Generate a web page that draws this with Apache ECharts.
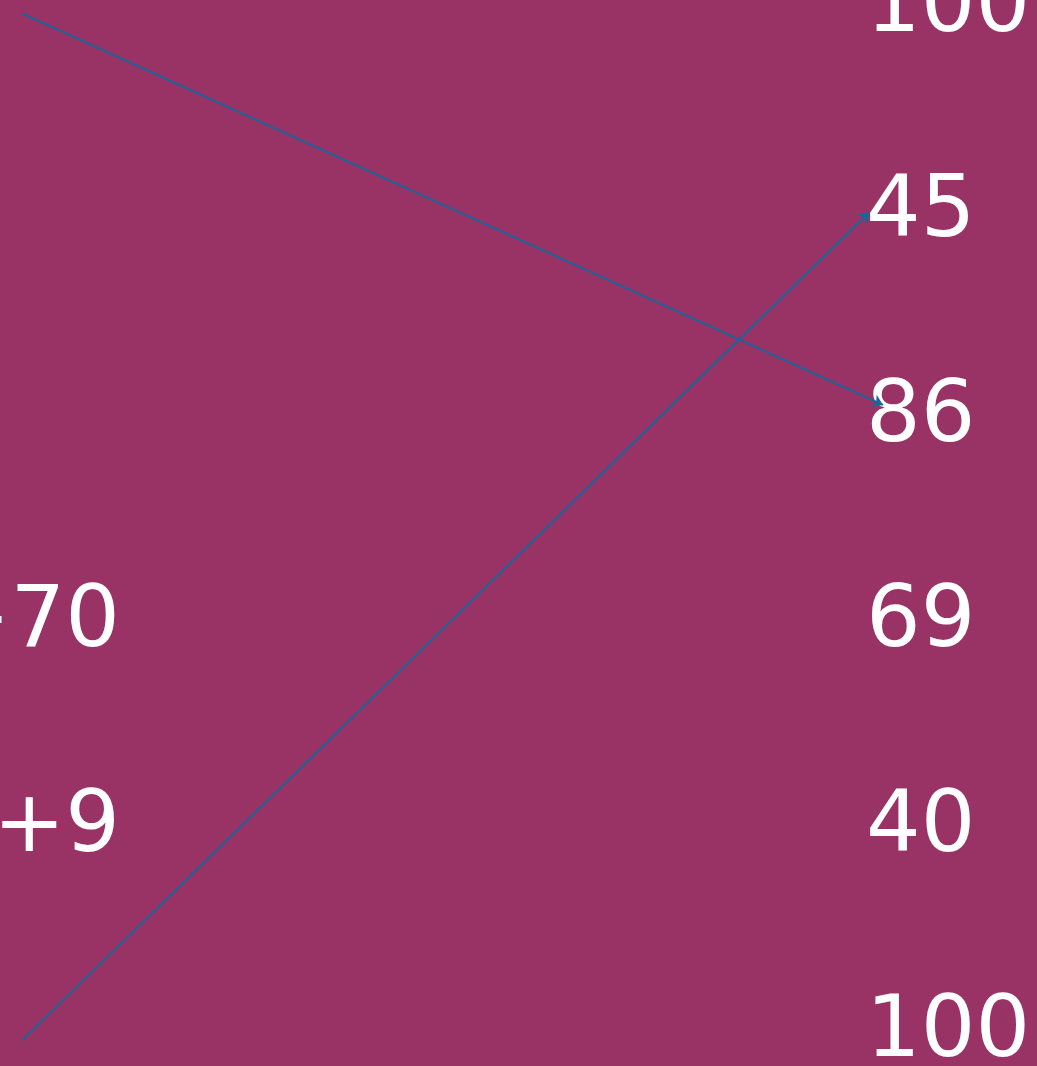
<!DOCTYPE html>
<html>
<head>
<meta charset="UTF-8">
<title>chart</title>
<script src="https://cdn.jsdelivr.net/npm/echarts@6/dist/echarts.min.js"></script>
<style>
  html, body { margin: 0; padding: 0; background: #993366; }
  #chart { width: 1037px; height: 1066px; }
</style>
</head>
<body>
<div id="chart"></div>
<script>
// row labels (top to bottom)
const rightLabels = ['100', '45', '86', '69', '40', '100'];
const leftLabels = ['', '', '', '+70', '+9', ''];

// arrows: [x, row] start -> end
const arrowStarts = [[0, 0.06], [0, 5.07]];
const arrowEnds = [[100, 1.97], [98.4, 1.03]];

const font = '"DejaVu Sans", Verdana, sans-serif';
const chart = echarts.init(document.getElementById('chart'));

chart.setOption({
  backgroundColor: '#993366',
  animation: false,
  grid: [
    { left: 22, right: 154, top: 0, bottom: 0, outerBoundsMode: 'none', containLabel: false },
    { left: 120, right: 171, top: 9, height: 1025, outerBoundsMode: 'none', containLabel: false }
  ],
  xAxis: [
    { gridIndex: 0, type: 'value', min: 0, max: 100, show: false },
    { gridIndex: 1, type: 'value', min: 0, max: 1, show: false }
  ],
  yAxis: [
    { gridIndex: 0, type: 'value', inverse: true, min: -0.005, max: 5.195, show: false },
    {
      gridIndex: 1, type: 'category', inverse: true, boundaryGap: false,
      position: 'right', data: rightLabels,
      axisLine: { show: false }, axisTick: { show: false }, splitLine: { show: false },
      axisLabel: { margin: 0, interval: 0, color: '#fff', fontSize: 86, fontFamily: font }
    },
    {
      gridIndex: 1, type: 'category', inverse: true, boundaryGap: false,
      position: 'left', data: leftLabels,
      axisLine: { show: false }, axisTick: { show: false }, splitLine: { show: false },
      axisLabel: { margin: 0, interval: 0, color: '#fff', fontSize: 86, fontFamily: font }
    }
  ],
  series: [{
    type: 'lines',
    coordinateSystem: 'cartesian2d',
    xAxisIndex: 0,
    yAxisIndex: 0,
    clip: false,
    symbol: ['none', 'arrow'],
    symbolSize: 10,
    lineStyle: { color: '#17679a', width: 2, opacity: 1 },
    data: arrowStarts.map((s, i) => ({ coords: [s, arrowEnds[i]] }))
  }]
});
</script>
</body>
</html>
